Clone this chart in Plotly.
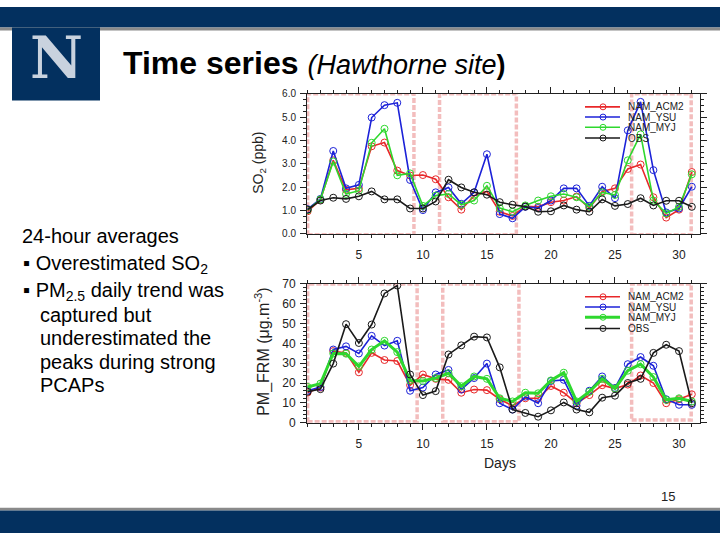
import plotly.graph_objects as go

days = list(range(1, 32))

so2_acm2 = [0.97, 1.46, 3.15, 1.89, 1.95, 3.75, 3.91, 2.71, 2.50, 2.52, 2.34, 1.57, 1.04, 1.64, 1.82, 0.95,
            0.77, 1.18, 1.16, 1.36, 1.43, 1.60, 1.11, 1.82, 1.95, 2.78, 2.97, 1.57, 0.70, 1.04, 2.65]
so2_ysu = [1.06, 1.50, 3.55, 1.95, 2.10, 4.98, 5.51, 5.61, 2.31, 1.02, 1.78, 1.99, 1.29, 1.78, 3.41, 0.85,
           0.67, 1.16, 1.11, 1.43, 1.95, 1.95, 1.20, 2.02, 1.53, 4.43, 5.65, 2.73, 0.92, 1.09, 2.02]
so2_myj = [1.02, 1.48, 3.10, 1.71, 1.85, 3.90, 4.50, 2.51, 2.59, 1.20, 1.64, 1.71, 1.25, 1.43, 2.06, 1.11,
           0.95, 1.22, 1.43, 1.61, 1.71, 1.57, 1.16, 1.78, 1.67, 3.15, 4.26, 1.43, 0.88, 1.16, 2.55]
so2_obs = [1.04, 1.43, 1.55, 1.50, 1.61, 1.82, 1.48, 1.48, 1.09, 1.09, 1.39, 2.32, 1.99, 1.78, 1.68, 1.36,
           1.25, 1.17, 0.95, 0.97, 1.22, 1.04, 0.95, 1.48, 1.20, 1.28, 1.53, 1.22, 1.42, 1.42, 1.16]

pm_acm2 = [15.2, 17.7, 36.1, 35.2, 25.4, 35.2, 31.6, 31.1, 18.9, 24.3, 22.1, 21.6, 15.1, 16.7, 16.4, 11.8,
           8.5, 12.3, 12.3, 18.5, 15.1, 9.8, 13.9, 18.9, 17.2, 19.2, 23.8, 20.0, 9.8, 11.8, 14.3]
pm_ysu = [16.1, 18.0, 36.9, 38.5, 34.9, 43.8, 38.9, 41.3, 16.1, 17.7, 24.3, 26.6, 16.7, 22.5, 29.8, 9.8,
          6.6, 13.1, 9.8, 21.0, 21.6, 8.5, 16.1, 23.3, 17.5, 29.5, 33.1, 28.7, 11.8, 9.0, 9.0]
pm_myj = [18.0, 19.7, 34.9, 34.8, 28.4, 36.9, 41.3, 35.6, 21.3, 21.0, 22.5, 24.9, 18.4, 23.3, 22.1, 12.3,
          10.7, 15.1, 14.8, 21.3, 25.2, 10.7, 15.6, 22.1, 17.2, 26.2, 29.5, 23.0, 11.5, 12.3, 10.7]
pm_obs = [15.6, 16.9, 29.8, 49.7, 40.2, 49.5, 65.2, 69.2, 24.3, 13.9, 15.9, 34.4, 39.0, 43.4, 43.0, 27.9,
          6.6, 4.9, 3.0, 6.2, 10.2, 6.6, 5.2, 12.6, 13.6, 20.0, 22.1, 35.2, 39.3, 36.1, 9.8]

series_names = ["NAM_ACM2", "NAM_YSU", "NAM_MYJ", "OBS"]
series_colors = ["#e8282a", "#1c22d8", "#2ed82e", "#1a1a1a"]

# PCAP episodes (day ranges) highlighted
so2_episodes = [(1.0, 9.3), (11.3, 17.3), (26.3, 30.95)]
pm_episodes = [(1.0, 9.55), (11.55, 17.5), (26.3, 30.95)]
pm_episode_bottoms = [0.5, 0.5, 1.3]

NAVY = "#03305f"
FONT = "Liberation Sans"

fig = go.Figure()

so2_sets = [so2_acm2, so2_ysu, so2_myj, so2_obs]
pm_sets = [pm_acm2, pm_ysu, pm_myj, pm_obs]
for name, col, vals in zip(series_names, series_colors, so2_sets):
    fig.add_trace(go.Scatter(x=days, y=vals, name=name, mode="lines+markers",
                             line=dict(color=col, width=1.6),
                             marker=dict(symbol="circle-open", size=7, color=col, line=dict(width=1)),
                             xaxis="x", yaxis="y", showlegend=False))
for name, col, vals in zip(series_names, series_colors, pm_sets):
    w = 3 if name == "NAM_MYJ" else 1.6
    fig.add_trace(go.Scatter(x=days, y=vals, name=name, mode="lines+markers",
                             line=dict(color=col, width=w),
                             marker=dict(symbol="circle-open", size=7, color=col, line=dict(width=1)),
                             xaxis="x2", yaxis="y2", showlegend=False))

W, H = 720, 540
def px(x):
    return x / W
def py(y):
    return 1 - y / H

shapes = []
annotations = []

# slide decoration
shapes.append(dict(type="rect", xref="paper", yref="paper", x0=0, x1=1, y0=py(21), y1=1,
                   fillcolor=NAVY, line=dict(width=0), layer="below"))
shapes.append(dict(type="rect", xref="paper", yref="paper", x0=0, x1=1, y0=py(24), y1=py(21),
                   fillcolor="#8a8a8a", line=dict(width=0), layer="below"))
shapes.append(dict(type="rect", xref="paper", yref="paper", x0=px(12), x1=px(100), y0=py(96), y1=py(21),
                   fillcolor=NAVY, line=dict(width=0), layer="below"))
shapes.append(dict(type="rect", xref="paper", yref="paper", x0=0, x1=1, y0=py(517), y1=py(514),
                   fillcolor="#8a8a8a", line=dict(width=0), layer="below"))
shapes.append(dict(type="rect", xref="paper", yref="paper", x0=0, x1=1, y0=0, y1=py(517),
                   fillcolor=NAVY, line=dict(width=0), layer="below"))

annotations.append(dict(text="N", x=px(56), y=py(52), xref="paper", yref="paper", showarrow=False,
                        xanchor="center", yanchor="middle",
                        font=dict(family="DejaVu Serif", size=58, color="#c9d2de", weight="bold")))
annotations.append(dict(text="<b>Time series</b> <span style='font-size:27px'><i>(Hawthorne site</i><b>)</b></span>",
                        x=px(121), y=py(58), xref="paper", yref="paper", showarrow=False,
                        xanchor="left", yanchor="middle",
                        font=dict(family=FONT, size=32, color="black")))

# left text
txt_lines = [
    (20, 235, "24-hour averages"),
    (21, 264, "▪ Overestimated SO<sub>2</sub>"),
    (21, 292, "▪ PM<sub>2.5</sub> daily trend was"),
    (38, 316, "captured but"),
    (38, 340, "underestimated the"),
    (38, 364, "peaks during strong"),
    (38, 388, "PCAPs"),
]
for x, y, t in txt_lines:
    annotations.append(dict(text=t, x=px(x), y=py(y), xref="paper", yref="paper", showarrow=False,
                            xanchor="left", yanchor="middle",
                            font=dict(family=FONT, size=20, color="black")))

annotations.append(dict(text="15", x=px(668), y=py(503), xref="paper", yref="paper", showarrow=False,
                        xanchor="center", yanchor="middle", font=dict(family=FONT, size=13, color="#222")))

# axis titles
annotations.append(dict(text="SO<sub>2</sub> (ppb)", x=px(259), y=py(160), xref="paper", yref="paper",
                        showarrow=False, textangle=-90, xanchor="center", yanchor="middle",
                        font=dict(family=FONT, size=14, color="#222")))
annotations.append(dict(text="PM_FRM (μg.m<sup>-3</sup>)", x=px(263), y=py(354), xref="paper", yref="paper",
                        showarrow=False, textangle=-90, xanchor="center", yanchor="middle",
                        font=dict(family=FONT, size=16, color="#222")))
annotations.append(dict(text="Days", x=px(500), y=py(468), xref="paper", yref="paper",
                        showarrow=False, xanchor="center", yanchor="middle",
                        font=dict(family=FONT, size=14, color="#222")))

# PCAP episode boxes
PINK = "#f3bdbd"
for x0, x1 in so2_episodes:
    shapes.append(dict(type="rect", xref="x", yref="y", x0=x0, x1=x1, y0=-0.03, y1=6.0,
                       line=dict(color=PINK, width=3.5, dash="5px,2px"), layer="below"))
for (x0, x1), yb in zip(pm_episodes, pm_episode_bottoms):
    shapes.append(dict(type="rect", xref="x2", yref="y2", x0=x0, x1=x1, y0=yb, y1=70,
                       line=dict(color=PINK, width=3.5, dash="5px,2px"), layer="below"))

# legends (drawn manually, NCL style)
def add_legend(ys, widths):
    for name, col, y, w in zip(series_names, series_colors, ys, widths):
        shapes.append(dict(type="line", xref="paper", yref="paper", x0=px(585), x1=px(620),
                           y0=py(y), y1=py(y), line=dict(color=col, width=w)))
        shapes.append(dict(type="circle", xref="paper", yref="paper", xsizemode="pixel", ysizemode="pixel",
                           xanchor=px(603), yanchor=py(y), x0=-3, x1=3, y0=-3, y1=3,
                           line=dict(color=col, width=1), fillcolor="rgba(0,0,0,0)"))
        annotations.append(dict(text=name, x=px(626), y=py(y), xref="paper", yref="paper", showarrow=False,
                                xanchor="left", yanchor="middle",
                                font=dict(family=FONT, size=10, color="#222")))

add_legend([102.5, 113, 123.5, 134.5], [1.6, 1.6, 1.6, 1.6])
add_legend([297.5, 308, 318.5, 330], [1.6, 1.6, 3, 1.6])

xax = dict(range=[0.95, 31.6], tickmode="array", tickvals=[5, 10, 15, 20, 25, 30],
           ticks="outside", ticklen=6, tickwidth=1, tickcolor="#222",
           showline=True, linecolor="#222", linewidth=1, mirror="allticks",
           showgrid=False, zeroline=False, ticklabelstandoff=4,
           tickfont=dict(family=FONT, size=12, color="#222"),
           minor=dict(dtick=1, tick0=0, ticks="outside", ticklen=3, tickcolor="#222", showgrid=False))

fig.update_layout(
    width=W, height=H, margin=dict(l=0, r=0, t=0, b=0),
    paper_bgcolor="white", plot_bgcolor="white", showlegend=False, hovermode=False,
    xaxis=dict(xax, domain=[px(307), px(699.5)], anchor="y"),
    yaxis=dict(range=[0, 6], domain=[py(233), py(89)], anchor="x", dtick=1, tickformat=".1f",
               ticks="outside", ticklen=6, tickcolor="#222", showline=True, linecolor="#222", linewidth=1,
               mirror="allticks", showgrid=False, zeroline=False, ticklabelstandoff=2,
               tickfont=dict(family=FONT, size=10, color="#222"),
               minor=dict(dtick=0.25, ticks="outside", ticklen=3, tickcolor="#222", showgrid=False)),
    xaxis2=dict(xax, domain=[px(307), px(699.5)], anchor="y2"),
    yaxis2=dict(range=[0, 70], domain=[py(426.7), py(284.3)], anchor="x2", dtick=10,
                ticks="outside", ticklen=6, tickcolor="#222", showline=True, linecolor="#222", linewidth=1,
                mirror="allticks", showgrid=False, zeroline=False, ticklabelstandoff=2,
                tickfont=dict(family=FONT, size=12, color="#222"),
                minor=dict(dtick=2, ticks="outside", ticklen=3, tickcolor="#222", showgrid=False)),
    shapes=shapes, annotations=annotations,
)

fig.write_html("out.html", config={"displayModeBar": False, "staticPlot": True},
               post_script="document.body.style.margin='0';document.body.style.padding='0';document.body.style.overflow='hidden';")
